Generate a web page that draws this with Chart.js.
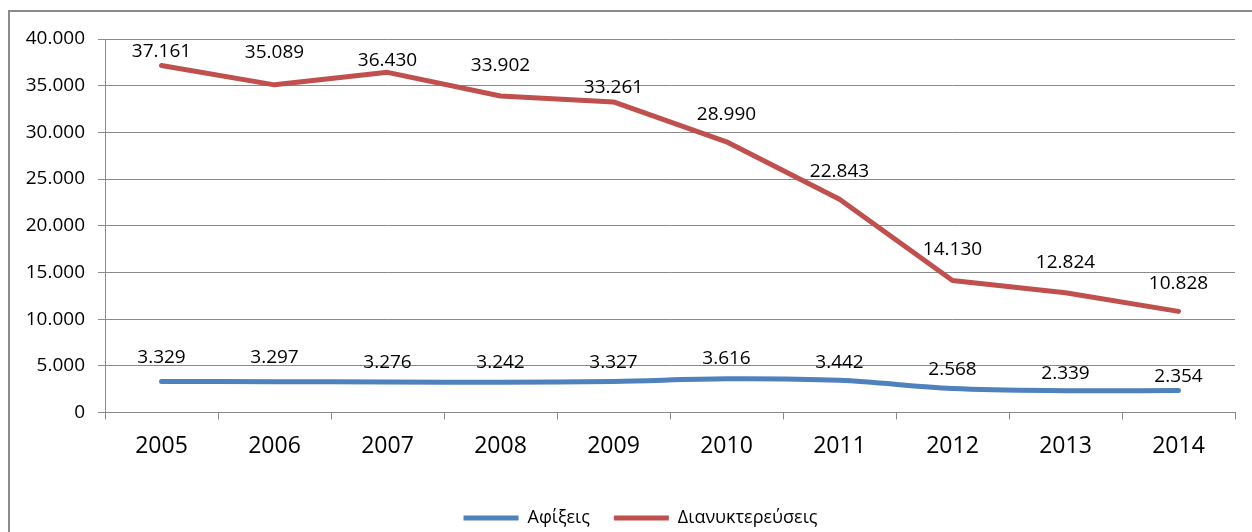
<!DOCTYPE html>
<html>
<head>
<meta charset="utf-8">
<script src="https://cdn.jsdelivr.net/npm/chart.js@4.4.1/dist/chart.umd.min.js"></script>
<style>
  html, body { margin: 0; padding: 0; background: #fff; overflow: hidden; }
  #frame {
    position: absolute; left: 8px; top: 10px; width: 1400px; height: 700px;
    border-left: 2px solid #8a8a8a; border-top: 2px solid #8a8a8a;
  }
  #chart { position: absolute; left: 0; top: 0; }
</style>
</head>
<body>
<div id="frame"></div>
<canvas id="chart" width="1252" height="532"></canvas>
<script>
// Έτη και τιμές των δύο σειρών
var years = ['2005', '2006', '2007', '2008', '2009', '2010', '2011', '2012', '2013', '2014'];
var arrivals = [3329, 3297, 3276, 3242, 3327, 3616, 3442, 2568, 2339, 2354];
var overnights = [37161, 35089, 36430, 33902, 33261, 28990, 22843, 14130, 12824, 10828];

// Πόσο ψηλότερα από το σημείο μπαίνει κάθε ετικέτα (px)
var arrivalsLabelLift = [24, 24, 19, 20, 19, 20, 18, 19, 17, 14];
var overnightsLabelLift = [14, 32, 12, 30, 14, 27, 28, 31, 30, 28];

var FONT = "'Open Sans', 'Noto Sans', sans-serif";

// 37161 -> "37.161"
function fmt(v) {
    return String(v).replace(/\B(?=(\d{3})+(?!\d))/g, '.');
}

// Ετικέτες τιμών πάνω από κάθε σημείο
var valueLabels = {
    id: 'valueLabels',
    afterDatasetsDraw: function (chart) {
        var ctx = chart.ctx;
        var lifts = [arrivalsLabelLift, overnightsLabelLift];
        ctx.save();
        ctx.font = '19px ' + FONT;
        ctx.fillStyle = '#000';
        ctx.textAlign = 'center';
        ctx.textBaseline = 'middle';
        chart.data.datasets.forEach(function (ds, di) {
            var meta = chart.getDatasetMeta(di);
            meta.data.forEach(function (pt, i) {
                ctx.fillText(fmt(ds.data[i]), pt.x, pt.y - lifts[di][i]);
            });
        });
        ctx.restore();
    }
};

// Μετακίνηση του υπομνήματος λίγο δεξιά και κάτω
var legendNudge = {
    id: 'legendNudge',
    afterLayout: function (chart) {
        var lg = chart.legend;
        lg.left += 23; lg.right += 23;
        lg.top += 5; lg.bottom += 5;
    }
};

var ctx = document.getElementById('chart').getContext('2d');

var data = {
    labels: years,
    datasets: [{
        label: 'Αφίξεις',
        data: arrivals,
        borderColor: '#4F81BD',
        backgroundColor: '#4F81BD',
        borderWidth: 5,
        borderCapStyle: 'round',
        pointRadius: 0,
        pointStyle: 'line',
        tension: 0.35,
        fill: false
    },
    {
        label: 'Διανυκτερεύσεις',
        data: overnights,
        borderColor: '#C0504D',
        backgroundColor: '#C0504D',
        borderWidth: 5,
        borderCapStyle: 'round',
        borderJoinStyle: 'round',
        pointRadius: 0,
        pointStyle: 'line',
        tension: 0,
        fill: false
    }]
};

var config = {
    type: 'line',
    data: data,
    plugins: [valueLabels, legendNudge],
    options: {
        responsive: false,
        animation: false,
        layout: { padding: { left: 0, right: 17, top: 39, bottom: 0 } },
        plugins: {
            legend: {
                position: 'bottom',
                labels: {
                    usePointStyle: true,
                    pointStyleWidth: 55,
                    padding: 24,
                    color: '#000',
                    font: { family: FONT, size: 18 }
                }
            },
            tooltip: { enabled: false }
        },
        scales: {
            x: {
                offset: true,
                grid: {
                    offset: true,
                    drawOnChartArea: false,
                    drawTicks: true,
                    tickLength: 7,
                    color: '#8a8a8a'
                },
                border: { color: '#8a8a8a', width: 1 },
                ticks: {
                    color: '#000',
                    padding: 13,
                    font: { family: FONT, size: 23 }
                },
                afterFit: function (scale) { scale.height = 67.5; }
            },
            y: {
                min: 0,
                max: 40000,
                ticks: {
                    stepSize: 5000,
                    color: '#000',
                    padding: 13,
                    font: { family: FONT, size: 19 },
                    callback: function (v) { return fmt(v); }
                },
                grid: { color: '#8a8a8a', tickLength: 7 },
                border: { color: '#8a8a8a', width: 1 },
                afterFit: function (scale) { scale.width = 105; }
            }
        }
    }
};

var myChart = new Chart(ctx, config);
</script>
</body>
</html>
